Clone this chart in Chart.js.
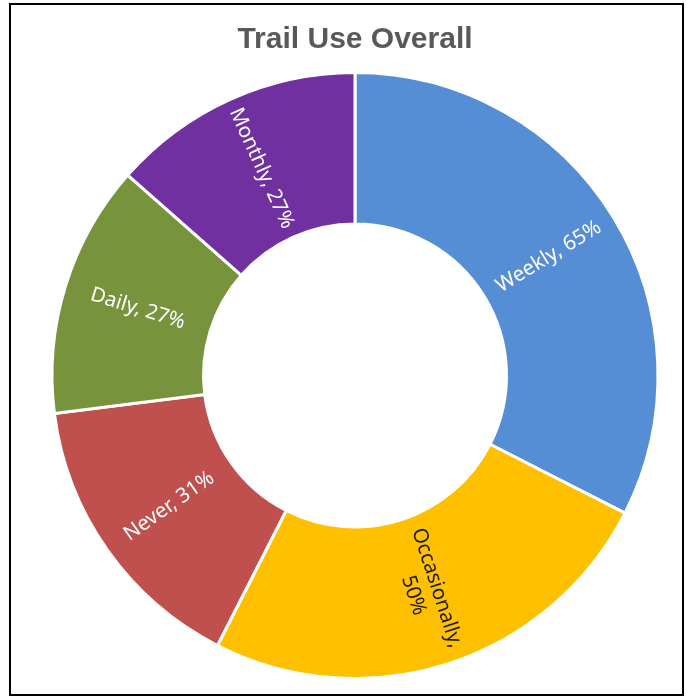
<!DOCTYPE html>
<html>
<head>
<meta charset="utf-8">
<title>Trail Use Overall</title>
<script src="https://cdn.jsdelivr.net/npm/chart.js@4/dist/chart.umd.min.js"></script>
<style>
    html, body { margin: 0; padding: 0; background: #fff; }
    #wrap { position: relative; width: 686px; height: 698px; }
</style>
</head>
<body>
<div id="wrap"><canvas id="trailChart" width="686" height="698"></canvas></div>
<script>
// ========= Data =========
const categories = ["Weekly", "Occasionally", "Never", "Daily", "Monthly"];
const values = [65, 50, 31, 27, 27];
const sliceColors = ["#558ED5", "#FFC000", "#C0504D", "#77933C", "#7030A0"];
const labelColors = ["#ffffff", "#1a1a1a", "#ffffff", "#ffffff", "#ffffff"];

// ========= Plugins =========
// thin black frame round the whole chart
const framePlugin = {
    id: "frame",
    afterDraw(chart) {
        const ctx = chart.ctx;
        ctx.save();
        ctx.strokeStyle = "#000";
        ctx.lineWidth = 2;
        ctx.strokeRect(10, 4, 673, 691);
        ctx.restore();
    },
};

// "Category, value%" labels, turned along the radius of each slice
const sliceLabels = {
    id: "sliceLabels",
    afterDatasetsDraw(chart) {
        const ctx = chart.ctx;
        const meta = chart.getDatasetMeta(0);
        const fontSize = 20.5;
        ctx.save();
        ctx.font = fontSize + "px 'Noto Sans', sans-serif";
        ctx.textAlign = "center";
        ctx.textBaseline = "middle";
        meta.data.forEach((arc, i) => {
            const pos = arc.tooltipPosition();
            let angle = (arc.startAngle + arc.endAngle) / 2;
            if (Math.cos(angle) < 0) angle += Math.PI;
            const text = categories[i] + ", " + values[i] + "%";
            let lines = [text];
            if (ctx.measureText(text).width > 140) {
                lines = [categories[i] + ",", values[i] + "%"];
            }
            const lh = fontSize * 1.2;
            ctx.save();
            ctx.translate(pos.x, pos.y);
            ctx.rotate(angle);
            ctx.fillStyle = labelColors[i];
            lines.forEach((ln, k) => {
                ctx.fillText(ln, 0, (k - (lines.length - 1) / 2) * lh);
            });
            ctx.restore();
        });
        ctx.restore();
    },
};

// ========= Trail Use (Doughnut) =========
const trailCtx = document.getElementById("trailChart");
new Chart(trailCtx, {
    type: "doughnut",
    data: {
        labels: categories,
        datasets: [
            {
                data: values,
                backgroundColor: sliceColors,
                borderColor: "#ffffff",
                borderWidth: 3,
            },
        ],
    },
    options: {
        responsive: false,
        animation: false,
        cutout: "50%",
        layout: {
            padding: { top: 0, left: 50, right: 26, bottom: 18 },
        },
        plugins: {
            legend: { display: false },
            tooltip: { enabled: false },
            title: {
                display: true,
                text: "Trail Use Overall",
                color: "#595959",
                font: { family: "'Liberation Sans', Arial, sans-serif", size: 30, weight: "bold", lineHeight: 1.2 },
                padding: { top: 22, bottom: 13 },
            },
        },
    },
    plugins: [sliceLabels, framePlugin],
});
</script>
</body>
</html>
